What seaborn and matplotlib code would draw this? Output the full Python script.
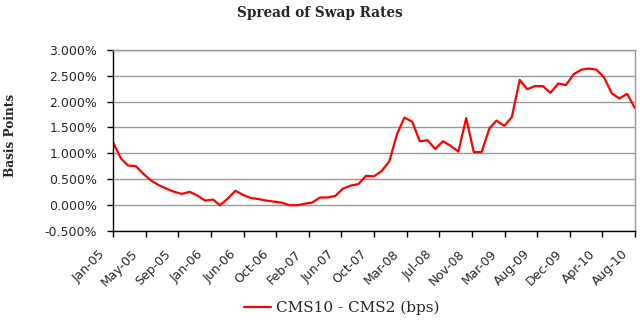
import numpy as np
import pandas as pd
import matplotlib
matplotlib.use("Agg")
import matplotlib.pyplot as plt
import matplotlib.dates as mdates
from matplotlib.transforms import ScaledTranslation
import seaborn as sns

# Month-end observation dates (69 monthly points)
dates = pd.date_range("2005-01-01", periods=69, freq="MS") - pd.Timedelta(days=1)

# CMS10 - CMS2 spread, in percent
spread = [1.21, 0.90, 0.76, 0.75, 0.60, 0.47, 0.38, 0.31, 0.25, 0.21,
          0.25, 0.18, 0.08, 0.10, -0.01, 0.12, 0.27, 0.19, 0.13, 0.11,
          0.08, 0.06, 0.04, -0.01, -0.01, 0.02, 0.04, 0.14, 0.14, 0.17,
          0.31, 0.37, 0.40, 0.56, 0.55, 0.65, 0.84, 1.37, 1.69, 1.61,
          1.23, 1.25, 1.08, 1.23, 1.14, 1.03, 1.68, 1.02, 1.02, 1.48,
          1.63, 1.53, 1.70, 2.42, 2.24, 2.30, 2.30, 2.17, 2.35, 2.32,
          2.53, 2.62, 2.64, 2.62, 2.47, 2.16, 2.06, 2.15, 1.87]

tick_labels = ["Jan-05", "May-05", "Sep-05", "Jan-06", "Jun-06", "Oct-06",
               "Feb-07", "Jun-07", "Oct-07", "Mar-08", "Jul-08", "Nov-08",
               "Mar-09", "Aug-09", "Dec-09", "Apr-10", "Aug-10"]
y_ticks = [-0.5, 0.0, 0.5, 1.0, 1.5, 2.0, 2.5, 3.0]
series_name = "CMS10 - CMS2 (bps)"

sns.set_style("white")
plt.rcParams["font.family"] = ["DejaVu Sans"]
SERIF = "DejaVu Serif"

df = pd.DataFrame({"date": dates, "spread": spread})

W, H = 640, 321
fig = plt.figure(figsize=(W / 100, H / 100), dpi=100)
left, right, top, bottom = 113, 635, 50, 230.5
ax = fig.add_axes([left / W, 1 - bottom / H, (right - left) / W, (bottom - top) / H])

sns.lineplot(data=df, x="date", y="spread", color="#ff0000", linewidth=1.6,
             label=series_name, ax=ax)

# y axis
ax.set_ylim(-0.5, 3.0)
ax.set_yticks(y_ticks)
ax.set_yticklabels([f"{v:.3f}%" for v in y_ticks])
ax.yaxis.grid(True, color="#999999", linewidth=1.0)
ax.xaxis.grid(False)
ax.set_axisbelow(True)

# x axis: evenly spaced ticks across the date span
x0, x1 = mdates.date2num(dates[0]), mdates.date2num(dates[-1])
ax.set_xlim(x0, x1)
ax.set_xticks(np.linspace(x0, x1, len(tick_labels)))
ax.set_xticklabels(tick_labels)
ax.set_xlabel("")

ax.tick_params(axis="y", direction="out", length=4.3, width=1, color="black",
               pad=7, labelsize=9, left=True)
ax.tick_params(axis="x", direction="out", length=4, width=1, color="black",
               pad=8.2, labelsize=9, bottom=True)

shift = ScaledTranslation(-14 / 100, 0, fig.dpi_scale_trans)
for lab in ax.get_xticklabels():
    lab.set_rotation(45)
    lab.set_ha("right")
    lab.set_va("top")
    lab.set_rotation_mode("anchor")
    lab.set_transform(lab.get_transform() + shift)

for side in ["left", "bottom"]:
    ax.spines[side].set_color("black")
    ax.spines[side].set_linewidth(1.0)
for side in ["top", "right"]:
    ax.spines[side].set_visible(True)
    ax.spines[side].set_color("#999999")
    ax.spines[side].set_linewidth(1.0)

ax.set_ylabel("Basis Points", family=SERIF, fontweight="bold", fontsize=8.7)
ax.yaxis.set_label_coords((17 - left) / (right - left), (bottom - 135) / (bottom - top))

fig.text(320 / W, 1 - 12.5 / H, "Spread of Swap Rates", family=SERIF,
         fontweight="bold", fontsize=9.8, ha="center", va="center")

ax.legend(loc="center", bbox_to_anchor=(342 / W, 1 - 308 / H),
          bbox_transform=fig.transFigure, frameon=False,
          prop={"family": SERIF, "size": 11}, handlelength=1.77,
          handletextpad=0.3)

fig.savefig("out.png", dpi=100, facecolor="white")
